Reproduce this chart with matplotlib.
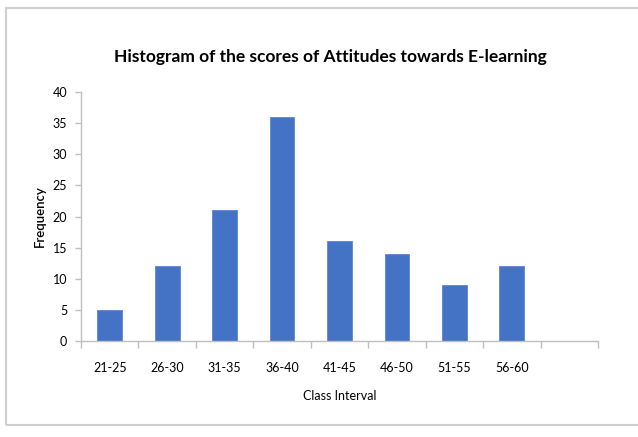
import matplotlib
matplotlib.use("Agg")
import matplotlib.pyplot as plt
from matplotlib.patches import Rectangle
from matplotlib.ticker import FixedLocator, NullFormatter, FixedFormatter

categories = ["21-25", "26-30", "31-35", "36-40", "41-45", "46-50", "51-55", "56-60"]
frequency = [5, 12, 21, 36, 16, 14, 9, 12]
yticks = [0, 5, 10, 15, 20, 25, 30, 35, 40]

plt.rcParams['font.family'] = ['Lato', 'DejaVu Sans']

W, H = 638, 437
fig = plt.figure(figsize=(W/100, H/100), dpi=100)
fig.patch.set_facecolor('white')
fig.patches.append(Rectangle((6/W, 1 - 425/H), 640/W, (425-8)/H, transform=fig.transFigure,
                             fill=False, edgecolor='#cfcfcf', linewidth=1.5))

ax = fig.add_axes([81/W, 1 - 341/H, (598-81)/W, (341-92)/H])
x = list(range(len(categories)))
ax.bar(x, frequency, width=0.43, color='#4472C4', edgecolor='#5b86d6', linewidth=0.6)

ax.set_xlim(-0.5, len(categories) + 0.5)
ax.set_ylim(0, 40)
ax.set_yticks(yticks)
ax.set_yticklabels([str(v) for v in yticks])

bounds = [i - 0.5 for i in range(len(categories) + 2)]
ax.xaxis.set_major_locator(FixedLocator(bounds))
ax.xaxis.set_major_formatter(NullFormatter())
ax.xaxis.set_minor_locator(FixedLocator(x))
ax.xaxis.set_minor_formatter(FixedFormatter(categories))
ax.tick_params(axis='x', which='major', length=5, color='#bfbfbf', width=1, direction='out')
ax.tick_params(axis='x', which='minor', length=0, pad=15, labelsize=9)
ax.tick_params(axis='y', length=4, color='#bfbfbf', width=1, direction='out', labelsize=9, pad=6)

for s in ['top', 'right']:
    ax.spines[s].set_visible(False)
for s in ['left', 'bottom']:
    ax.spines[s].set_color('#bfbfbf')
    ax.spines[s].set_linewidth(1)

ax.set_xlabel('Class Interval', fontsize=9, labelpad=12)
ax.set_ylabel('Frequency', fontsize=9.5, labelpad=5, fontweight='semibold')
fig.text(330/W, 1 - 57/H, 'Histogram of the scores of Attitudes towards E-learning',
         ha='center', va='center', fontsize=12.5, fontweight='bold')

fig.savefig('out.png', dpi=100, facecolor='white')
